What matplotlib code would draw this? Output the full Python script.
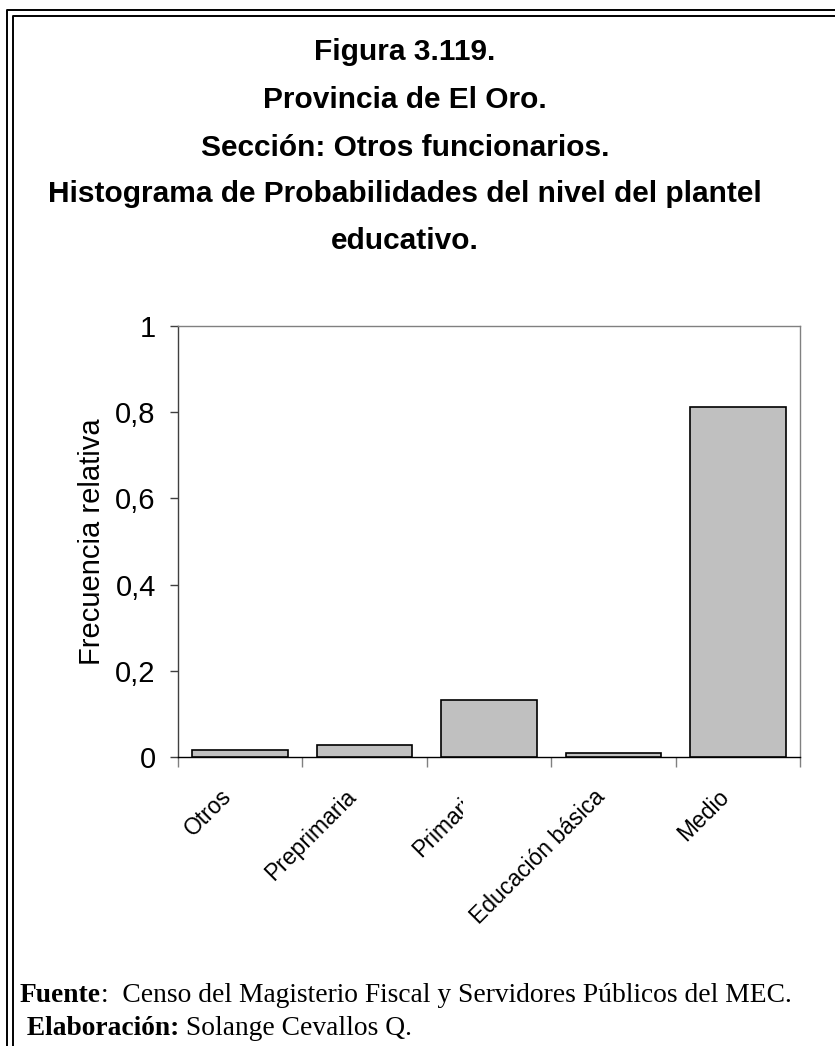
import numpy as np
import matplotlib
matplotlib.use("Agg")
import matplotlib.pyplot as plt
from matplotlib.lines import Line2D
from matplotlib.transforms import Bbox, ScaledTranslation

# datos
categorias = ["Otros", "Preprimaria", "Primaria", "Educación básica", "Medio"]
frecuencia = [0.016, 0.027, 0.132, 0.009, 0.813]
yticks = [0, 0.2, 0.4, 0.6, 0.8, 1.0]
ytick_labels = ["0", "0,2", "0,4", "0,6", "0,8", "1"]

titulos = [
    "Figura 3.119.",
    "Provincia de El Oro.",
    "Sección: Otros funcionarios.",
    "Histograma de Probabilidades del nivel del plantel",
    "educativo.",
]
fuente = [("Fuente", ":  Censo del Magisterio Fiscal y Servidores Públicos del MEC."),
          (" Elaboración:", " Solange Cevallos Q.")]

W, H = 835, 1046
fig = plt.figure(figsize=(W / 100, H / 100), dpi=100)
fig.patch.set_facecolor("white")

def px(x, y):
    return x / W, 1 - y / H

# marco doble (arriba e izquierda)
for off in [6.5, 12.5]:
    yy = off + 3
    fig.add_artist(Line2D([px(off, 0)[0], px(off, 0)[0], 1], [0, px(0, yy)[1], px(0, yy)[1]],
                          transform=fig.transFigure, color="black", lw=1.4))

# titulos
title_y = [52, 100, 148, 194, 241]
for t, y in zip(titulos, title_y):
    fig.text(px(405, 0)[0], px(0, y)[1], t, ha="center", va="center",
             fontsize=21.5, fontweight="bold", family="Liberation Sans")

ax = fig.add_axes([178 / W, 1 - 757 / H, (800 - 178) / W, (757 - 326) / H])
x = np.arange(len(categorias))
ax.bar(x, frecuencia, width=0.77, color="#c0c0c0", edgecolor="black", linewidth=1.2, zorder=3)

ax.set_xlim(-0.5, len(categorias) - 0.5)
ax.set_ylim(0, 1)
ax.set_yticks(yticks)
ax.set_yticklabels(ytick_labels, family="Liberation Sans", fontsize=21)
ax.tick_params(axis="y", direction="out", length=6, width=1, color="#404040", pad=10)

ax.set_xticks(x)
ax.set_xticklabels(categorias, rotation=45, ha="right", va="center", rotation_mode="anchor",
                   family="Liberation Sans", fontsize=16.5)
ax.tick_params(axis="x", which="major", length=0, pad=26)
ax.set_xticks(np.arange(-0.5, len(categorias)), minor=True)
ax.tick_params(axis="x", which="minor", direction="out", length=7, width=1, color="#808080")

ax.set_ylabel("Frecuencia relativa", family="Liberation Sans", fontsize=21, labelpad=7)

ax.spines["left"].set_color("#404040")
ax.spines["bottom"].set_color("black")
ax.spines["top"].set_color("#808080")
ax.spines["right"].set_color("#808080")
for s in ax.spines.values():
    s.set_linewidth(1)

# etiquetas un poco a la izquierda del centro, "Primaria" cortada como en el original
shift = ScaledTranslation(-12 / 100, 0, fig.dpi_scale_trans)
for i, lbl in enumerate(ax.get_xticklabels()):
    lbl.set_transform(lbl.get_transform() + shift)
    if categorias[i] == "Primaria":
        lbl.set_clip_on(True)
        lbl.set_clip_box(Bbox.from_extents(0, 0, 463, H))

# fuente y elaboracion
fig.canvas.draw()
renderer = fig.canvas.get_renderer()
for (negrita, normal), (x0, yb) in zip(fuente, [(20, 1002), (20, 1035)]):
    t1 = fig.text(px(x0, 0)[0], px(0, yb)[1], negrita, fontsize=19.8, family="Liberation Serif",
                  fontweight="bold", va="baseline")
    ext = t1.get_window_extent(renderer)
    fig.text(ext.x1 / W, px(0, yb)[1], normal, fontsize=19.8, family="Liberation Serif",
             va="baseline")

plt.savefig("out.png", dpi=100, facecolor="white")
